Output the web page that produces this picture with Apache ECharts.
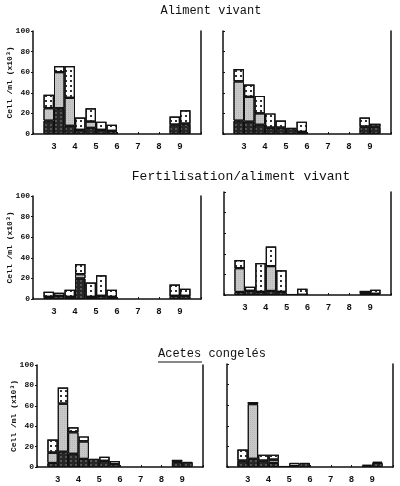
<!DOCTYPE html>
<html>
<head>
<meta charset="utf-8">
<script src="https://cdn.jsdelivr.net/npm/echarts@6/dist/echarts.min.js"></script>
<style>
  html, body { margin: 0; padding: 0; background: #fff; }
  #main { width: 400px; height: 486px; }
</style>
</head>
<body>
<div id="main"></div>
<script>
// jours (graduations) et positions des demi-journees
const dayTicks = [3, 4, 5, 6, 7, 8, 9];
const barDays = [2.75, 3.25, 3.75, 4.25, 4.75, 5.25, 5.75, 8.75, 9.25];
const yTicks = [0, 20, 40, 60, 80, 100];

const titles = ["Aliment vivant", "Fertilisation/aliment vivant", "Acetes congelés"];
const yName = "Cell /ml (x10³)";

// Aliment vivant
const p1Dark  = [13, 25, 8, 4, 6, 4, 3, 9, 10];
const p1Grey  = [12, 35, 27, 0, 6, 0, 0, 0, 0];
const p1White = [13, 6, 31, 12, 13, 8, 6, 8, 13];
const p2Dark  = [13, 12, 9, 6, 6, 6, 2, 7, 7];
const p2Grey  = [38, 24, 11, 0, 0, 0, 0, 0, 0];
const p2White = [12, 12, 17, 14, 7, 0, 10, 9, 3];
// Fertilisation/aliment vivant
const p3Dark  = [2, 3, 2, 20, 2, 3, 2, 3, 3];
const p3Grey  = [0, 0, 0, 4, 0, 0, 0, 0, 0];
const p3White = [5, 3, 7, 10, 14, 20, 7, 11, 7];
const p4Dark  = [3, 4, 3, 4, 3, 1, 0, 2, 1];
const p4Grey  = [23, 0, 0, 24, 0, 0, 0, 0, 0];
const p4White = [8, 4, 28, 19, 21, 0, 6, 2, 4];
// Acetes congeles
const p5Dark  = [4, 15, 13, 8, 8, 6, 3, 5, 5];
const p5Grey  = [10, 47, 21, 17, 0, 0, 0, 0, 0];
const p5White = [13, 16, 5, 5, 0, 4, 3, 2, 0];
const p6Dark  = [6, 8, 6, 4, 1, 1, 4, 1, 4];
const p6Grey  = [0, 53, 0, 3, 0, 3, 0, 0, 0];
const p6White = [11, 2, 6, 5, 0, 0, 0, 1, 1];

const panels = [
  { box: { left: 33, top: 31, width: 168, height: 103 }, labels: true, data: [p1Dark, p1Grey, p1White] },
  { box: { left: 223, top: 31, width: 168, height: 103 }, labels: false, data: [p2Dark, p2Grey, p2White] },
  { box: { left: 33, top: 196, width: 168, height: 103 }, labels: true, data: [p3Dark, p3Grey, p3White] },
  { box: { left: 224, top: 192, width: 167, height: 103 }, labels: false, data: [p4Dark, p4Grey, p4White] },
  { box: { left: 37, top: 365, width: 166, height: 102 }, labels: true, data: [p5Dark, p5Grey, p5White] },
  { box: { left: 227, top: 364, width: 166, height: 103 }, labels: false, data: [p6Dark, p6Grey, p6White] }
];

const mono = "Liberation Mono";
const ink = "#111";

// demi-journees de 2 a 10 (16 cases)
var bins = [];
for (var b = 0; b < 16; b++) bins.push(String(2 + b * 0.5));
function toBins(vals) {
  var out = bins.map(function () { return null; });
  barDays.forEach(function (d, j) {
    if (vals[j] > 0) out[Math.floor((d - 2) / 0.5)] = vals[j];
  });
  return out;
}

var myChart = echarts.init(document.getElementById("main"));

var grid = [], xAxis = [], yAxis = [], series = [];

var segStyles = [
  { color: "#262626", borderColor: ink, borderWidth: 1,
    decal: { symbol: "circle", symbolSize: 0.7, color: "rgba(255,255,255,0.6)", dashArrayX: [[2, 3]], dashArrayY: [2, 2] } },
  { color: "#c8c8c8", borderColor: ink, borderWidth: 1,
    decal: { symbol: "rect", symbolSize: 0.6, color: "rgba(90,90,90,0.5)", dashArrayX: [[1, 1]], dashArrayY: [1, 1] } },
  { color: "#ffffff", borderColor: ink, borderWidth: 1.2,
    decal: { symbol: "rect", symbolSize: 1, color: "#333", dashArrayX: [[2, 3]], dashArrayY: [2, 3] } }
];

panels.forEach(function (p, i) {
  grid.push(Object.assign({ containLabel: false }, p.box));
  // axe des jours (visible)
  xAxis.push({
    type: "value", gridIndex: i, min: 2, max: 10, interval: 1,
    axisLine: { show: true, lineStyle: { color: ink, width: 1.5 } },
    axisTick: { show: true, inside: true, length: 2, lineStyle: { color: ink } },
    splitLine: { show: false },
    axisLabel: {
      margin: 8, fontSize: 9, fontWeight: "bold", fontFamily: mono, color: ink,
      formatter: function (v) { return dayTicks.indexOf(v) >= 0 ? String(v) : ""; }
    }
  });
  // axe des demi-journees pour les barres (cache)
  xAxis.push({
    type: "category", gridIndex: i, data: bins, show: false, boundaryGap: true
  });
  yAxis.push({
    type: "value", gridIndex: i, min: 0, max: 100, interval: 20,
    name: p.labels ? yName : "", nameLocation: "middle", nameGap: 19, nameRotate: 90,
    nameMoveOverlap: false,
    nameTextStyle: { fontSize: 8, fontWeight: "bold", fontFamily: mono, color: ink },
    axisLine: { show: true, lineStyle: { color: ink, width: 1.5 } },
    axisTick: { show: true, inside: !p.labels, length: 2, lineStyle: { color: ink } },
    splitLine: { show: false },
    axisLabel: {
      show: p.labels, margin: 3, fontSize: 8, fontWeight: "bold", fontFamily: mono, color: ink,
      formatter: function (v) { return yTicks.indexOf(v) >= 0 ? String(v) : ""; }
    }
  });
  yAxis.push({
    type: "value", gridIndex: i, min: 0, max: 100, position: "right",
    axisLine: { show: true, lineStyle: { color: ink, width: 1.5 } },
    axisTick: { show: false }, axisLabel: { show: false }, splitLine: { show: false }
  });
  p.data.forEach(function (vals, k) {
    series.push({
      type: "bar", xAxisIndex: i * 2 + 1, yAxisIndex: i * 2, stack: "p" + i,
      barCategoryGap: "0%",
      data: toBins(vals),
      itemStyle: segStyles[k],
      emphasis: { disabled: true },
      animation: false
    });
  });
});

var titleStyle = function (size) {
  return { fontFamily: mono, fontSize: size, fontWeight: "normal", color: ink };
};

var option = {
  backgroundColor: "#fff",
  animation: false,
  title: [
    { text: titles[0], left: 206, top: 0, textAlign: "center", textStyle: titleStyle(12) },
    { text: titles[1], left: 236, top: 165, textAlign: "center", textStyle: titleStyle(13) },
    { text: titles[2], left: 207, top: 343, textAlign: "center", textStyle: titleStyle(12) }
  ],
  graphic: [
    { type: "line", shape: { x1: 158, y1: 362, x2: 202, y2: 362 }, style: { stroke: ink, lineWidth: 1 } }
  ],
  grid: grid,
  xAxis: xAxis,
  yAxis: yAxis,
  series: series
};

myChart.setOption(option);
</script>
</body>
</html>
